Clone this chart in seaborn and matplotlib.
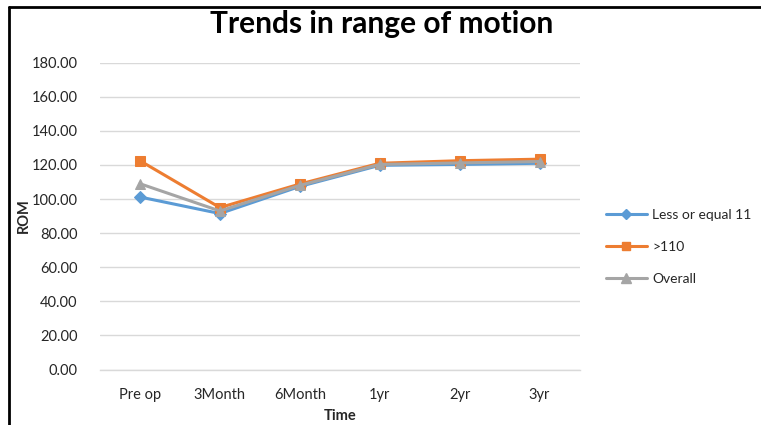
import matplotlib
matplotlib.use("Agg")
import matplotlib.pyplot as plt
import seaborn as sns
import pandas as pd
from matplotlib.lines import Line2D

# Mean range of motion at each follow-up point
time_points = ["Pre op", "3Month", "6Month", "1yr", "2yr", "3yr"]
rom_le_110 = [101.2, 91.5, 107.4, 119.8, 120.3, 121.0]
rom_gt_110 = [122.5, 95.0, 108.8, 121.0, 122.5, 123.4]
rom_overall = [109.0, 93.0, 108.0, 120.3, 121.2, 122.0]
series_names = ["Less or equal 11", ">110", "Overall"]
y_ticks = [0, 20, 40, 60, 80, 100, 120, 140, 160, 180]

sns.set_theme(style="white")
plt.rcParams["font.family"] = ["Lato", "DejaVu Sans"]

rows = []
for name, vals in zip(series_names, [rom_le_110, rom_gt_110, rom_overall]):
    for i, (t, v) in enumerate(zip(time_points, vals)):
        rows.append({"Time": i, "ROM": v, "Group": name})
df = pd.DataFrame(rows)

colors = {"Less or equal 11": "#5B9BD5", ">110": "#ED7D31", "Overall": "#A5A5A5"}
markers = {"Less or equal 11": "D", ">110": "s", "Overall": "^"}
msizes = {"Less or equal 11": 6, ">110": 7, "Overall": 7.5}

fig = plt.figure(figsize=(7.61, 4.25), dpi=100)
ax = fig.add_axes([100 / 761, 1 - 369.5 / 425, 479.5 / 761, 306.8 / 425])

for name in series_names:
    sub = df[df["Group"] == name]
    sns.lineplot(data=sub, x="Time", y="ROM", ax=ax, color=colors[name],
                 marker=markers[name], markersize=msizes[name],
                 markeredgecolor=colors[name], linewidth=2.2, legend=False)

ax.set_xlim(-0.5, len(time_points) - 0.5)
ax.set_ylim(0, 180)
ax.set_xticks(range(len(time_points)))
ax.set_xticklabels(time_points)
ax.set_yticks(y_ticks)
ax.set_yticklabels([f"{v:.2f}" for v in y_ticks])
ax.tick_params(axis="both", length=0, labelsize=10.5, colors="#262626")
ax.tick_params(axis="x", pad=13)
ax.tick_params(axis="y", pad=16)
ax.grid(axis="y", color="#D9D9D9", linewidth=1)
ax.set_axisbelow(True)
for s in ["top", "right", "left"]:
    ax.spines[s].set_visible(False)
ax.spines["bottom"].set_color("#D9D9D9")
ax.spines["bottom"].set_linewidth(1)

ax.set_xlabel("Time", fontsize=10.5, fontweight="bold", labelpad=5)
ax.set_ylabel("ROM", fontsize=10.5, fontweight="bold", labelpad=2)
ax.yaxis.set_label_coords(-0.145, 0.5)

fig.text(382 / 761, 1 - 24 / 425, "Trends in range of motion", ha="center",
         va="center", fontsize=21.5, fontweight="bold", color="black")

handles = [Line2D([0], [0], color=colors[n], marker=markers[n],
                  markersize=msizes[n] - 1, linewidth=2.2) for n in series_names]
fig.legend(handles, series_names, loc="center left",
           bbox_to_anchor=(600 / 761, 1 - 247 / 425), frameon=False,
           fontsize=10, handlelength=3.0, handletextpad=0.35,
           labelspacing=1.45, labelcolor="#262626", borderaxespad=0)

# Outer frame edges
fig.add_artist(Line2D([9 / 761, 9 / 761], [0, 1 - 7 / 425], color="black",
                      linewidth=2, transform=fig.transFigure))
fig.add_artist(Line2D([9 / 761, 1], [1 - 7 / 425, 1 - 7 / 425], color="black",
                      linewidth=2, transform=fig.transFigure))

fig.savefig("out.png", dpi=100, facecolor="white")
